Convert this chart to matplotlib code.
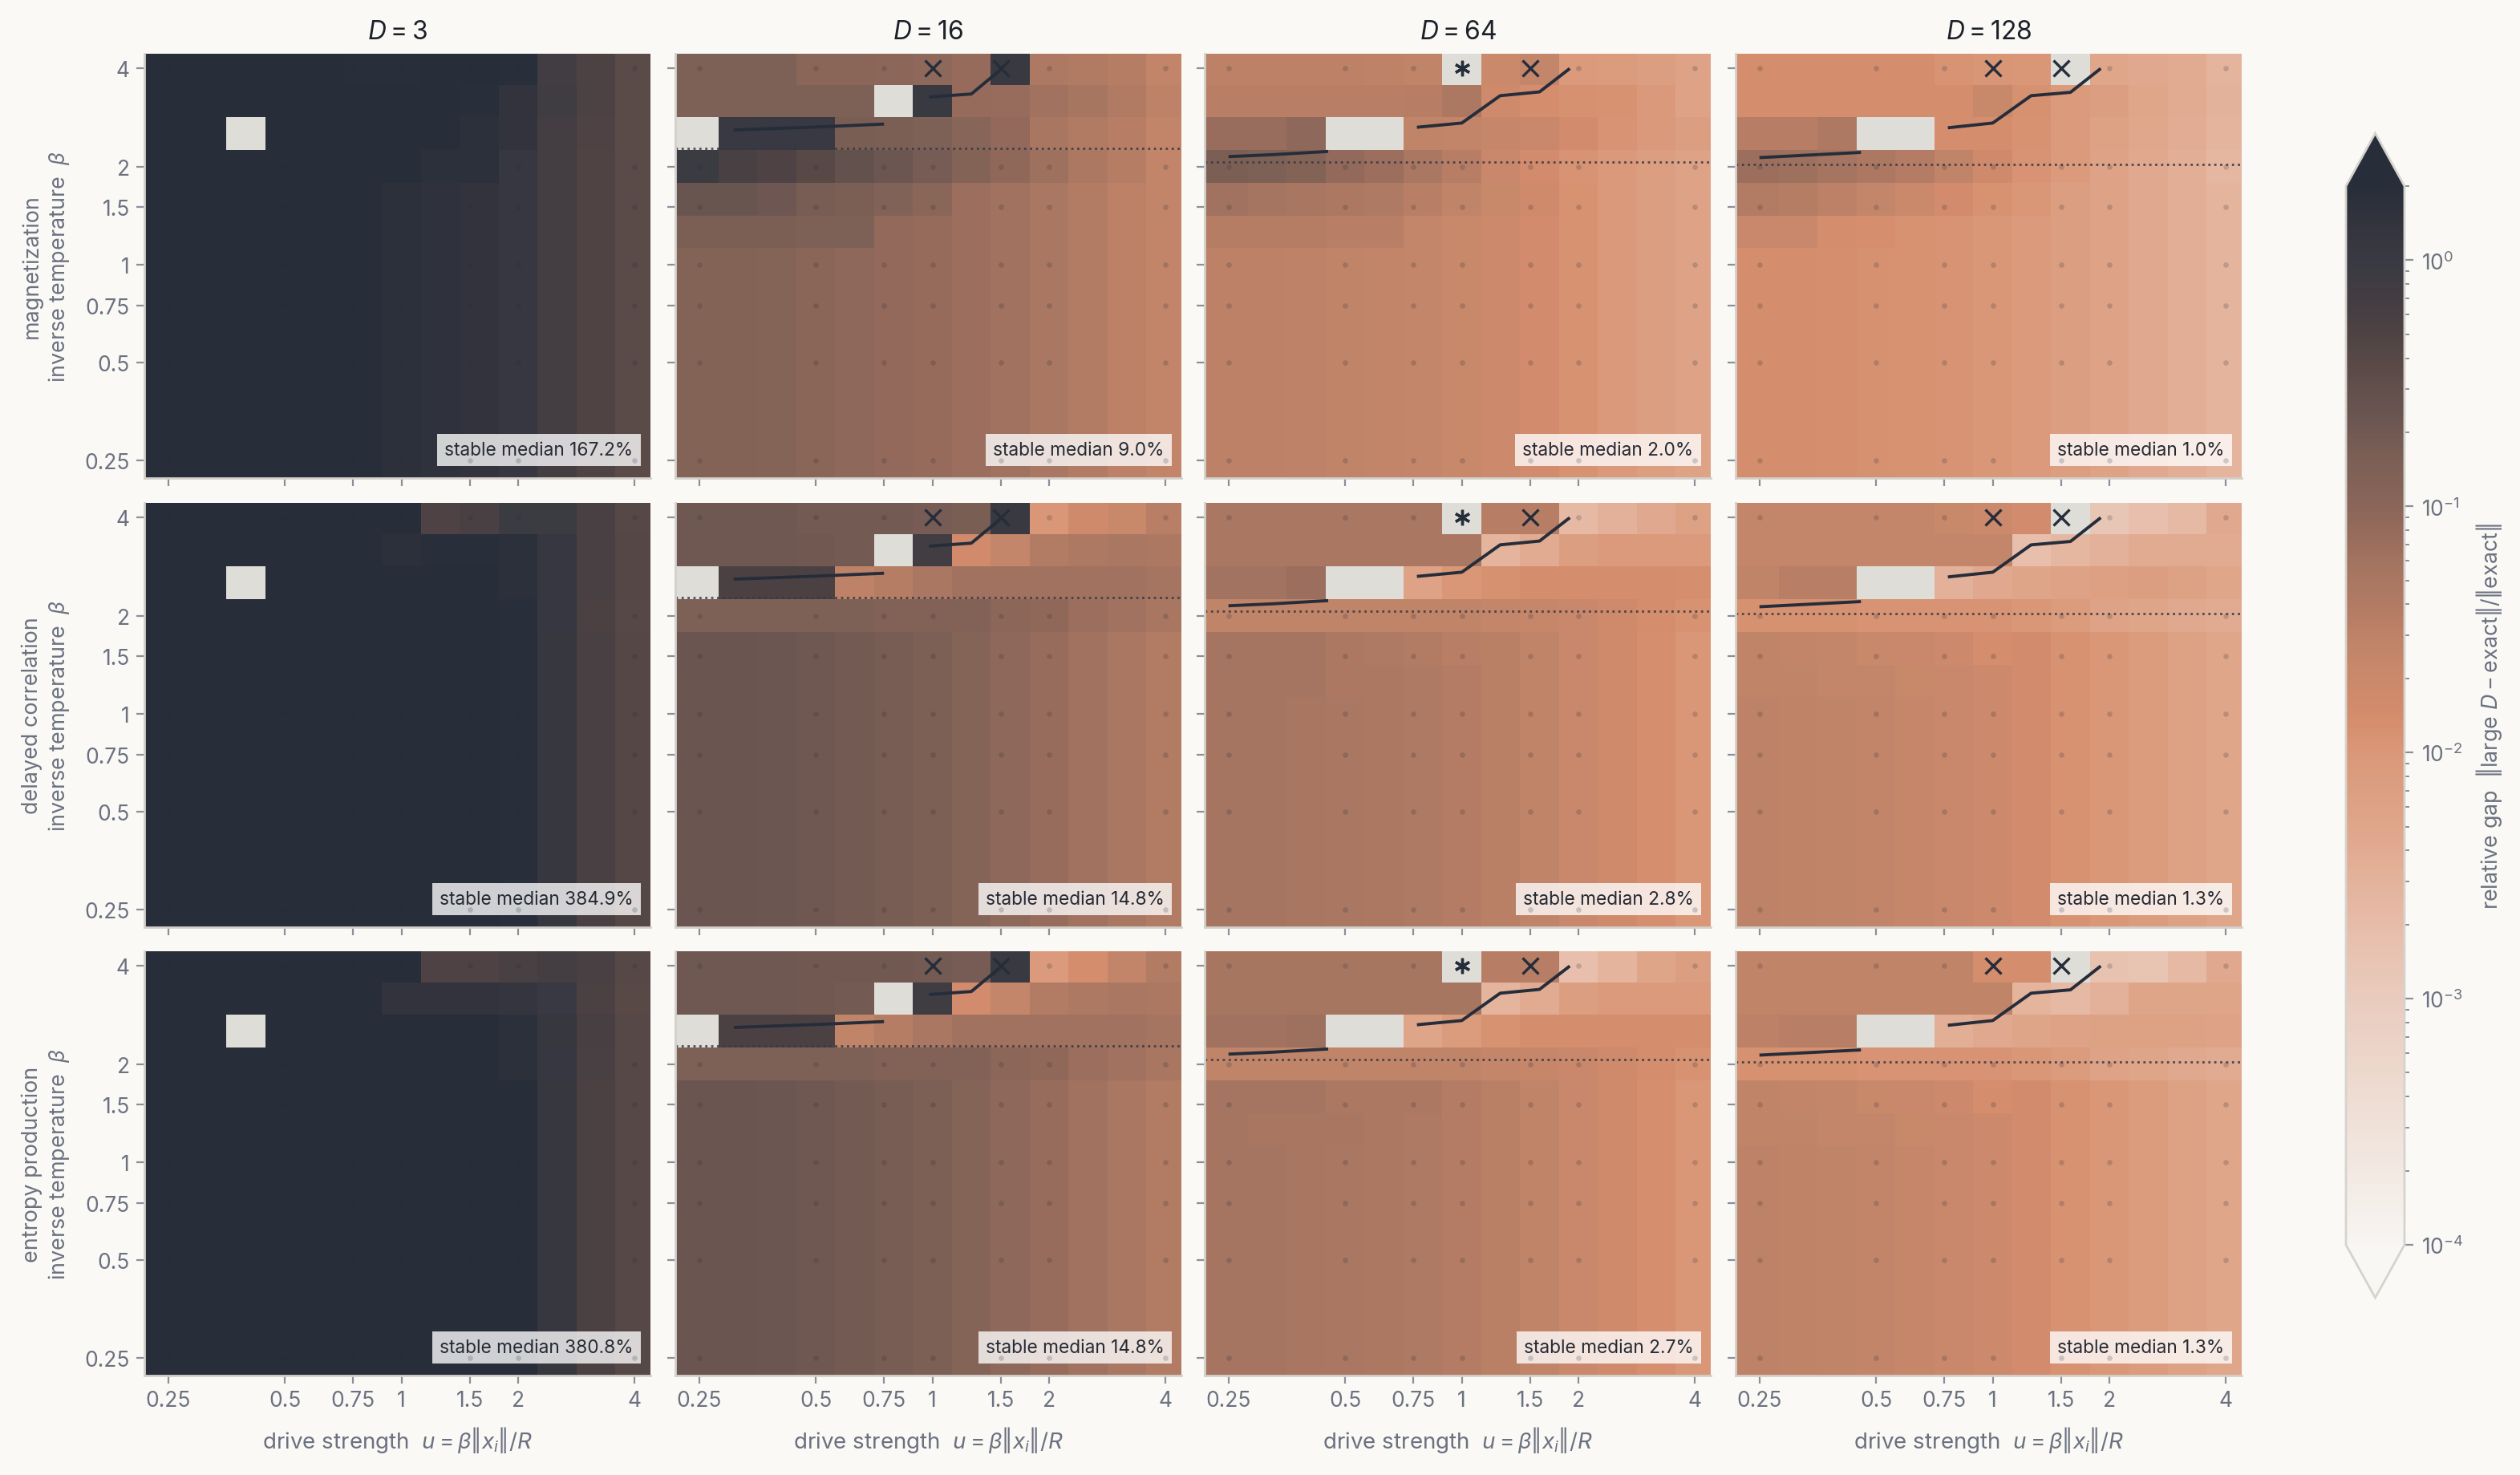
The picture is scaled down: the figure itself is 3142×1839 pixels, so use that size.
import numpy as np
import matplotlib
matplotlib.use("Agg")
import matplotlib.pyplot as plt
from matplotlib import font_manager
from matplotlib.colors import LinearSegmentedColormap, LogNorm
from matplotlib.ticker import FixedLocator, FixedFormatter, NullLocator, LogLocator

plt.rcParams["font.family"] = ["Inter", "DejaVu Sans"]


def pick_italic(families):
    """First family that really ships an italic face."""
    for fam in families:
        try:
            path = font_manager.findfont(
                font_manager.FontProperties(family=fam, style="italic"),
                fallback_to_default=False)
        except Exception:
            continue
        name = path.lower()
        if "italic" in name or "oblique" in name:
            return fam
    return "DejaVu Sans"


ITALIC_FAMILY = pick_italic(["Inter", "Roboto", "Open Sans", "Lato", "Noto Sans"])
plt.rcParams["mathtext.fontset"] = "custom"
plt.rcParams["mathtext.rm"] = "Inter"
plt.rcParams["mathtext.it"] = f"{ITALIC_FAMILY}:italic"
plt.rcParams["mathtext.bf"] = "Inter:bold"

nan = np.nan

# ---------------------------------------------------------------- data
DIMS = [3, 16, 64, 128]
OBSERVABLES = ["magnetization", "delayed correlation", "entropy production"]

# cell centres of the heat-map grid
U_CELLS = [0.25, 0.315, 0.397, 0.5, 0.63, 0.794, 1.0, 1.26, 1.587, 2.0, 2.52, 3.175, 4.0]
BETA_CELLS = [4.0, 3.175, 2.52, 2.0, 1.587, 1.26, 1.0, 0.794, 0.63, 0.5, 0.397, 0.315, 0.25]

# sampled points (grey dots) and tick values
TICK_VALUES = [0.25, 0.5, 0.75, 1, 1.5, 2, 4]
TICK_LABELS = ["0.25", "0.5", "0.75", "1", "1.5", "2", "4"]

# log10 of the relative gap, rows from beta=4 (top) down to beta=0.25
MAG_D3_LOW = [0.4, 0.4, 0.4, 0.4, 0.4, 0.4, 0.25, 0.2, 0.15, 0.05, -0.17, -0.32, -0.45]
MAG_D3 = [
    [0.4, 0.4, 0.4, 0.4, 0.4, 0.3, 0.3, 0.4, 0.4, 0.28, -0.15, -0.28, -0.45],
    [0.4, 0.4, 0.4, 0.4, 0.4, 0.4, 0.4, 0.4, 0.3, 0.15, -0.1, -0.28, -0.45],
    [0.4, 0.4, nan, 0.4, 0.4, 0.4, 0.4, 0.32, 0.25, 0.15, -0.17, -0.3, -0.45],
    [0.4, 0.4, 0.4, 0.4, 0.4, 0.4, 0.35, 0.25, 0.25, 0.05, -0.17, -0.32, -0.45],
] + [MAG_D3_LOW] * 9

COR_D3_LOW = [0.4, 0.4, 0.4, 0.4, 0.4, 0.4, 0.4, 0.4, 0.4, 0.3, 0.07, -0.25, -0.38]
COR_D3 = [
    [0.4, 0.4, 0.4, 0.4, 0.4, 0.4, 0.4, -0.3, -0.25, -0.05, -0.05, -0.25, -0.4],
    [0.4, 0.4, 0.4, 0.4, 0.4, 0.4, 0.25, 0.3, 0.3, 0.25, 0.05, -0.25, -0.38],
    [0.4, 0.4, nan, 0.4, 0.4, 0.4, 0.4, 0.4, 0.4, 0.25, 0.05, -0.25, -0.38],
    [0.4, 0.4, 0.4, 0.4, 0.4, 0.4, 0.4, 0.4, 0.4, 0.27, 0.05, -0.27, -0.4],
] + [COR_D3_LOW] * 9

ENT_D3_LOW = [0.4, 0.4, 0.4, 0.4, 0.4, 0.4, 0.4, 0.4, 0.4, 0.4, 0.07, -0.27, -0.4]
ENT_D3 = [
    [0.4, 0.4, 0.4, 0.4, 0.4, 0.4, 0.4, -0.3, -0.3, -0.25, -0.17, -0.25, -0.4],
    [0.4, 0.4, 0.4, 0.4, 0.4, 0.4, 0.15, 0.15, 0.15, 0.12, 0.0, -0.27, -0.42],
    [0.4, 0.4, nan, 0.4, 0.4, 0.4, 0.4, 0.4, 0.4, 0.25, 0.07, -0.22, -0.4],
    [0.4, 0.4, 0.4, 0.4, 0.4, 0.4, 0.4, 0.4, 0.4, 0.25, 0.05, -0.25, -0.4],
] + [ENT_D3_LOW] * 9

MAG_D16_LOW = [-0.92, -0.92, -0.93, -1.0, -1.03, -1.07, -1.1, -1.15, -1.2, -1.3, -1.4, -1.5, -1.58]
MAG_D16 = [
    [-0.85, -0.85, -0.85, -1.0, -1.0, -1.02, -1.03, -1.1, 0.02, -1.35, -1.38, -1.43, -1.57],
    [-0.85, -0.85, -0.85, -0.85, -0.83, nan, 0.02, -1.1, -1.12, -1.2, -1.27, -1.38, -1.52],
    [nan, 0.0, 0.0, 0.0, -0.78, -0.8, -0.83, -0.97, -1.07, -1.28, -1.38, -1.45, -1.57],
    [-0.05, -0.25, -0.3, -0.42, -0.55, -0.65, -0.75, -0.92, -1.05, -1.18, -1.33, -1.43, -1.57],
    [-0.62, -0.62, -0.66, -0.76, -0.8, -0.88, -1.0, -1.15, -1.2, -1.3, -1.4, -1.5, -1.58],
    [-0.8, -0.8, -0.8, -0.85, -0.85, -1.07, -1.1, -1.15, -1.2, -1.3, -1.4, -1.5, -1.58],
] + [MAG_D16_LOW] * 7

COR_D16_LOW = [-0.63, -0.63, -0.64, -0.68, -0.72, -0.76, -0.82, -0.93, -1.03, -1.12, -1.2, -1.3, -1.4]
COR_D16 = [
    [-0.68, -0.68, -0.68, -0.72, -0.72, -0.72, -0.75, -0.78, 0.02, -2.0, -1.78, -1.65, -1.47],
    [-0.68, -0.68, -0.68, -0.7, -0.72, nan, -0.15, -1.8, -1.6, -1.4, -1.35, -1.3, -1.33],
    [nan, -0.27, -0.27, -0.27, -1.53, -1.43, -1.3, -1.2, -1.2, -1.2, -1.2, -1.2, -1.25],
    [-0.85, -0.85, -0.85, -0.85, -0.85, -0.9, -0.9, -0.9, -1.02, -1.05, -1.15, -1.2, -1.28],
] + [COR_D16_LOW] * 9

ENT_D16_LOW = [-0.63, -0.63, -0.64, -0.68, -0.72, -0.76, -0.82, -0.93, -1.03, -1.12, -1.2, -1.3, -1.4]
ENT_D16 = [
    [-0.68, -0.68, -0.68, -0.7, -0.7, -0.7, -0.72, -0.75, 0.02, -2.05, -1.85, -1.57, -1.4],
    [-0.68, -0.68, -0.68, -0.7, -0.72, nan, -0.1, -1.82, -1.6, -1.4, -1.35, -1.3, -1.33],
    [nan, -0.27, -0.27, -0.27, -1.55, -1.43, -1.3, -1.2, -1.2, -1.2, -1.2, -1.2, -1.25],
    [-0.85, -0.85, -0.85, -0.85, -0.85, -0.9, -0.9, -0.9, -1.02, -1.05, -1.15, -1.2, -1.28],
] + [ENT_D16_LOW] * 9

MAG_D64_LOW = [-1.5, -1.51, -1.52, -1.55, -1.57, -1.6, -1.65, -1.72, -1.82, -1.93, -2.02, -2.12, -2.25]
MAG_D64 = [
    [-1.5, -1.5, -1.5, -1.5, -1.52, -1.55, nan, -1.7, -1.6, -2.05, -2.07, -2.12, -2.25],
    [-1.47, -1.47, -1.47, -1.47, -1.47, -1.46, -1.33, -1.75, -1.85, -1.9, -1.93, -2.03, -2.25],
    [-1.13, -1.13, -1.03, nan, nan, -1.55, -1.58, -1.63, -1.68, -1.83, -1.95, -2.02, -2.15],
    [-0.8, -0.85, -0.92, -1.07, -1.15, -1.3, -1.45, -1.67, -1.82, -1.95, -2.02, -2.12, -2.25],
    [-1.2, -1.25, -1.28, -1.33, -1.37, -1.47, -1.55, -1.65, -1.75, -1.93, -2.02, -2.15, -2.25],
    [-1.43, -1.43, -1.43, -1.47, -1.47, -1.6, -1.65, -1.72, -1.82, -1.93, -2.02, -2.12, -2.25],
] + [MAG_D64_LOW] * 7

COR_D64_LOW = [-1.25, -1.26, -1.28, -1.31, -1.33, -1.37, -1.42, -1.48, -1.55, -1.67, -1.75, -1.87, -2.0]
COR_D64 = [
    [-1.3, -1.3, -1.3, -1.3, -1.3, -1.3, nan, -1.45, -1.45, -2.65, -2.5, -2.35, -2.2],
    [-1.3, -1.3, -1.3, -1.3, -1.3, -1.3, -1.3, -2.55, -2.4, -2.15, -2.05, -2.05, -2.05],
    [-1.22, -1.22, -1.15, nan, nan, -2.25, -2.0, -1.9, -1.85, -1.85, -1.85, -1.85, -1.87],
    [-1.55, -1.55, -1.55, -1.55, -1.55, -1.55, -1.55, -1.6, -1.63, -1.68, -1.75, -1.85, -1.93],
    [-1.25, -1.25, -1.25, -1.33, -1.37, -1.4, -1.47, -1.48, -1.55, -1.67, -1.75, -1.87, -2.0],
    [-1.25, -1.25, -1.25, -1.33, -1.33, -1.37, -1.42, -1.48, -1.55, -1.67, -1.75, -1.87, -2.0],
] + [COR_D64_LOW] * 7

ENT_D64_LOW = [-1.25, -1.26, -1.28, -1.31, -1.33, -1.37, -1.42, -1.48, -1.55, -1.67, -1.75, -1.87, -2.0]
ENT_D64 = [
    [-1.27, -1.27, -1.27, -1.27, -1.27, -1.27, nan, -1.45, -1.45, -2.75, -2.55, -2.27, -2.15],
    [-1.27, -1.27, -1.27, -1.27, -1.27, -1.27, -1.27, -2.55, -2.4, -2.12, -2.05, -2.05, -2.05],
    [-1.2, -1.2, -1.18, nan, nan, -2.27, -2.1, -1.92, -1.85, -1.85, -1.85, -1.85, -1.85],
    [-1.55, -1.55, -1.55, -1.55, -1.55, -1.55, -1.55, -1.6, -1.63, -1.68, -1.75, -1.85, -1.93],
    [-1.25, -1.25, -1.25, -1.33, -1.33, -1.33, -1.42, -1.48, -1.55, -1.67, -1.75, -1.87, -2.0],
    [-1.25, -1.28, -1.28, -1.28, -1.33, -1.37, -1.42, -1.48, -1.55, -1.67, -1.75, -1.87, -2.0],
] + [ENT_D64_LOW] * 7

MAG_D128_LOW = [-1.85, -1.86, -1.87, -1.9, -1.92, -1.95, -2.0, -2.05, -2.12, -2.22, -2.35, -2.45, -2.55]
MAG_D128 = [
    [-1.85, -1.85, -1.85, -1.85, -1.85, -1.95, -1.97, -2.0, nan, -2.3, -2.35, -2.4, -2.55],
    [-1.85, -1.85, -1.85, -1.85, -1.85, -1.85, -1.65, -1.9, -2.05, -2.15, -2.3, -2.4, -2.52],
    [-1.45, -1.45, -1.35, nan, nan, -1.85, -1.85, -1.92, -2.05, -2.2, -2.33, -2.42, -2.55],
    [-1.15, -1.18, -1.25, -1.33, -1.42, -1.55, -1.75, -1.95, -2.05, -2.22, -2.37, -2.45, -2.6],
    [-1.4, -1.43, -1.5, -1.6, -1.7, -1.83, -1.92, -2.0, -2.12, -2.22, -2.35, -2.45, -2.55],
    [-1.68, -1.68, -1.85, -1.88, -1.92, -1.95, -2.0, -2.05, -2.12, -2.22, -2.35, -2.45, -2.55],
] + [MAG_D128_LOW] * 7

COR_D128_LOW = [-1.53, -1.54, -1.55, -1.57, -1.63, -1.67, -1.73, -1.82, -1.92, -2.0, -2.1, -2.2, -2.3]
COR_D128 = [
    [-1.6, -1.6, -1.6, -1.6, -1.6, -1.65, -1.72, -1.82, nan, -2.9, -2.75, -2.65, -2.35],
    [-1.6, -1.6, -1.6, -1.6, -1.6, -1.6, -1.6, -2.75, -2.6, -2.5, -2.4, -2.4, -2.4],
    [-1.55, -1.47, -1.47, nan, nan, -2.5, -2.35, -2.27, -2.22, -2.18, -2.15, -2.2, -2.3],
    [-1.9, -1.9, -1.9, -1.95, -1.95, -1.95, -1.95, -2.0, -2.07, -2.22, -2.27, -2.35, -2.4],
    [-1.55, -1.57, -1.6, -1.65, -1.68, -1.73, -1.85, -1.82, -1.92, -2.0, -2.1, -2.2, -2.3],
    [-1.55, -1.55, -1.6, -1.6, -1.65, -1.67, -1.73, -1.82, -1.92, -2.0, -2.1, -2.2, -2.3],
] + [COR_D128_LOW] * 7

ENT_D128_LOW = [-1.53, -1.54, -1.55, -1.57, -1.63, -1.67, -1.73, -1.82, -1.92, -2.0, -2.1, -2.2, -2.3]
ENT_D128 = [
    [-1.55, -1.55, -1.55, -1.55, -1.55, -1.55, -1.85, -1.85, nan, -2.8, -2.85, -2.65, -2.37],
    [-1.55, -1.55, -1.55, -1.55, -1.55, -1.55, -1.55, -2.55, -2.65, -2.5, -2.27, -2.27, -2.27],
    [-1.5, -1.47, -1.47, nan, nan, -2.45, -2.37, -2.27, -2.22, -2.2, -2.2, -2.2, -2.25],
    [-1.9, -1.9, -1.9, -1.95, -1.95, -1.95, -1.95, -2.0, -2.07, -2.22, -2.27, -2.35, -2.4],
    [-1.55, -1.57, -1.6, -1.65, -1.68, -1.73, -1.85, -1.82, -1.92, -2.0, -2.1, -2.2, -2.3],
    [-1.55, -1.55, -1.6, -1.6, -1.65, -1.67, -1.73, -1.82, -1.92, -2.0, -2.1, -2.2, -2.3],
] + [ENT_D128_LOW] * 7

STABLE_MEDIAN = [
    ["167.2%", "9.0%", "2.0%", "1.0%"],
    ["384.9%", "14.8%", "2.8%", "1.3%"],
    ["380.8%", "14.8%", "2.7%", "1.3%"],
]

# stability boundary (solid line), nan = gap between branches
BOUNDARY_U = {
    16: [0.307, 0.5, 0.75, nan, 0.98, 1.26, 1.5],
    64: [0.25, 0.325, 0.452, nan, 0.766, 1.0, 1.256, 1.587, 1.9],
    128: [0.25, 0.457, nan, 0.766, 1.0, 1.256, 1.587, 1.9],
}
BOUNDARY_BETA = {
    16: [2.59, 2.645, 2.70, nan, 3.27, 3.34, 3.97],
    64: [2.145, 2.175, 2.225, nan, 2.64, 2.72, 3.30, 3.39, 4.0],
    128: [2.13, 2.21, nan, 2.63, 2.72, 3.30, 3.38, 4.0],
}
# dotted reference level of beta
BETA_STAR = {16: 2.28, 64: 2.06, 128: 2.035}
# flagged points at beta = 4
FLAG_U = {16: [1.0, 1.5], 64: [1.0, 1.5], 128: [1.0, 1.5]}
FLAG_MARKER = {16: ["x", "x"], 64: [(6, 2, 0), "x"], 128: ["x", "x"]}

# colormap anchors (log10 gap -> colour)
CMAP_STOPS = [
    (-4.0, "#f7f5f2"), (-3.5, "#efe0d7"), (-3.0, "#e9cbbd"), (-2.75, "#e7bfac"),
    (-2.5, "#e3b199"), (-2.25, "#dea387"), (-2.0, "#d99878"), (-1.85, "#d48c6c"),
    (-1.7, "#cb896b"), (-1.55, "#c08469"), (-1.4, "#b27b63"), (-1.25, "#a57561"),
    (-1.1, "#966b5c"), (-1.0, "#8a6659"), (-0.8, "#7b5f55"), (-0.6, "#685450"),
    (-0.4, "#574846"), (-0.2, "#463e42"), (0.0, "#393a42"), (0.15, "#33343d"),
    (0.30103, "#282e3a"),
]

# ---------------------------------------------------------------- style
BG = "#faf9f5"
INK = "#1c2029"
GREY_TXT = "#6b7180"
TICK_C = "#8a8f9c"
SPINE_C = "#d3d0cb"
LINE_C = "#262d3a"

VMIN, VMAX = 1e-4, 2.0
lo, hi = np.log10(VMIN), np.log10(VMAX)
stop_pos = [min(max((v - lo) / (hi - lo), 0.0), 1.0) for v, _ in CMAP_STOPS]
stop_pos[0], stop_pos[-1] = 0.0, 1.0
cmap = LinearSegmentedColormap.from_list(
    "gap", list(zip(stop_pos, [col for _, col in CMAP_STOPS])))
cmap.set_bad("#dfddd8")
cmap.set_over("#272d39")
cmap.set_under("#f8f7f4")
norm = LogNorm(VMIN, VMAX)

XLIM = (0.217, 4.39)
YLIM = (0.221, 4.44)
u_c = np.array(U_CELLS)
b_c = np.array(BETA_CELLS)
x_edges = np.concatenate([[XLIM[0]], np.sqrt(u_c[:-1] * u_c[1:]), [XLIM[1]]])
y_edges = np.concatenate([[YLIM[1]], np.sqrt(b_c[:-1] * b_c[1:]), [YLIM[0]]])

grids = [
    [MAG_D3, MAG_D16, MAG_D64, MAG_D128],
    [COR_D3, COR_D16, COR_D64, COR_D128],
    [ENT_D3, ENT_D16, ENT_D64, ENT_D128],
]

W, H = 3142, 1840
fig = plt.figure(figsize=(W / 200, H / 200), dpi=200, facecolor=BG)

col_left = [180, 842, 1502, 2164]
row_top = [68, 628, 1187]
pw, ph = 631, 529

dot_u, dot_b = np.meshgrid(TICK_VALUES, TICK_VALUES)

for r in range(3):
    for c, D in enumerate(DIMS):
        ax = fig.add_axes([col_left[c] / W, 1 - (row_top[r] + ph) / H, pw / W, ph / H])
        ax.set_facecolor(BG)
        ax.set_xscale("log")
        ax.set_yscale("log")

        gap = np.ma.masked_invalid(10.0 ** np.array(grids[r][c], dtype=float))
        ax.pcolormesh(x_edges, y_edges, gap, cmap=cmap, norm=norm,
                      shading="flat", zorder=1)

        if D in BETA_STAR:
            ax.axhline(BETA_STAR[D], color="#353843", lw=1.0, ls=":",
                       alpha=0.85, zorder=2)

        ax.text(0.966, 0.045, f"stable median {STABLE_MEDIAN[r][c]}",
                transform=ax.transAxes, ha="right", va="bottom",
                fontsize=8.2, color="#262a33", zorder=3,
                bbox=dict(boxstyle="square,pad=0.4", fc="white", ec="none", alpha=0.78))

        ax.plot(dot_u.ravel(), dot_b.ravel(), "o", ms=2.4, color="#262c38",
                alpha=0.2, mew=0, zorder=4)

        if D in BOUNDARY_U:
            ax.plot(BOUNDARY_U[D], BOUNDARY_BETA[D], color=LINE_C, lw=1.4,
                    solid_capstyle="butt", zorder=5)
            for fu, fm in zip(FLAG_U[D], FLAG_MARKER[D]):
                ax.plot([fu], [4.0], marker=fm, ms=7, mew=1.2, color=LINE_C,
                        ls="none", zorder=6, clip_on=False)

        ax.set_xlim(*XLIM)
        ax.set_ylim(*YLIM)

        for axis in (ax.xaxis, ax.yaxis):
            axis.set_major_locator(FixedLocator(TICK_VALUES))
            axis.set_major_formatter(FixedFormatter(TICK_LABELS))
            axis.set_minor_locator(NullLocator())
        ax.tick_params(direction="out", length=3.5, width=0.8, color=TICK_C,
                       labelcolor=GREY_TXT, labelsize=9.5, pad=3)
        if c > 0:
            ax.tick_params(labelleft=False)
        if r < 2:
            ax.tick_params(labelbottom=False)

        for side in ("top", "right"):
            ax.spines[side].set_visible(False)
        for side in ("left", "bottom"):
            ax.spines[side].set_color(SPINE_C)
            ax.spines[side].set_linewidth(1.0)

        if r == 0:
            ax.set_title(f"$D = {D}$", fontsize=11.5, color=INK, pad=7)
        if r == 2:
            ax.set_xlabel(r"drive strength  $u = \beta\Vert x_i\Vert/R$",
                          fontsize=10, color=GREY_TXT, labelpad=6)
        if c == 0:
            ax.set_ylabel(f"{OBSERVABLES[r]}\ninverse temperature  $\\beta$",
                          fontsize=9.7, color=GREY_TXT, labelpad=6)

# colour bar
cax = fig.add_axes([2925 / W, 1 - 1619 / H, 73 / W, (1619 - 167) / H])
sm = plt.cm.ScalarMappable(norm=norm, cmap=cmap)
cb = fig.colorbar(sm, cax=cax, extend="both")
cb.outline.set_edgecolor("#d6d3ce")
cb.outline.set_linewidth(1.0)
cb.set_ticks([1e-4, 1e-3, 1e-2, 1e-1, 1.0])
cb.ax.yaxis.set_minor_locator(LogLocator(base=10, subs=np.arange(2, 10)))
cb.ax.tick_params(which="major", length=4, width=0.8, color=TICK_C,
                  labelcolor=GREY_TXT, labelsize=9.5)
cb.ax.tick_params(which="minor", length=2, width=0.7, color=TICK_C)
cb.set_label(r"relative gap  $\Vert\mathrm{large}\ D - \mathrm{exact}\Vert/\Vert\mathrm{exact}\Vert$",
             fontsize=9.7, color=GREY_TXT, labelpad=5)

fig.savefig("out.png", dpi=200, facecolor=BG)
